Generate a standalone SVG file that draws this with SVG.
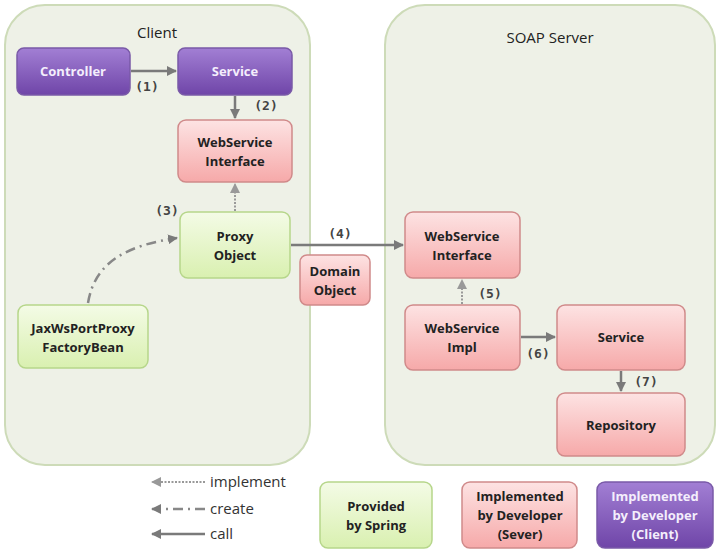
<svg xmlns="http://www.w3.org/2000/svg" width="720" height="557" viewBox="0 0 720 557">
<style>
text{font-family:"Open Sans","Liberation Sans",sans-serif;font-weight:bold;font-size:13px;text-anchor:middle}
.cont{fill:#eef1e7;stroke:#cddbb8;stroke-width:2}
.title{font-weight:normal;font-size:15px;fill:#222}
.g{fill:url(#gg);stroke:#b6d68a;stroke-width:1.5}
.r{fill:url(#gr);stroke:#d08a8a;stroke-width:1.5}
.p{fill:url(#gp);stroke:#7a5aa8;stroke-width:1.5}
.pt{fill:#f4eefc}
.t{fill:#222}
.lbl{font-family:"DejaVu Sans Mono","Liberation Mono",monospace;font-size:13px;fill:#444}
.call{stroke:#7a7a7a;stroke-width:2.5;fill:none}
.impl{stroke:#999;stroke-width:2;stroke-dasharray:2 1.5;fill:none}
.create{stroke:#888;stroke-width:2.5;stroke-dasharray:10 5 2 5;fill:none}
.leg{font-weight:normal;font-size:15px;text-anchor:start;fill:#333}
</style>
<defs>
<linearGradient id="gg" x1="0" y1="0" x2="0" y2="1"><stop offset="0" stop-color="#f4fbe6"/><stop offset="1" stop-color="#d9f0b0"/></linearGradient>
<linearGradient id="gr" x1="0" y1="0" x2="0" y2="1"><stop offset="0" stop-color="#fde3e3"/><stop offset="1" stop-color="#f6a9a9"/></linearGradient>
<linearGradient id="gp" x1="0" y1="0" x2="0" y2="1"><stop offset="0" stop-color="#a27fd4"/><stop offset="1" stop-color="#6f45a8"/></linearGradient>
<marker id="ah" viewBox="0 0 10 10" refX="9" refY="5" markerWidth="4" markerHeight="4" orient="auto-start-reverse"><path d="M0,0L10,5L0,10z" fill="#7a7a7a"/></marker>
<marker id="ahl" viewBox="0 0 10 10" refX="9" refY="5" markerWidth="5" markerHeight="5" orient="auto-start-reverse"><path d="M0,0L10,5L0,10z" fill="#999"/></marker>
</defs>
<g id="client"><rect class="cont" x="5" y="5" width="305" height="460" rx="40"/><text class="title" x="157" y="38">Client</text></g>
<g id="server"><rect class="cont" x="385" y="5" width="330" height="460" rx="40"/><text class="title" x="550" y="43">SOAP Server</text></g>
<g id="connectors">
<line class="call" x1="131" y1="71" x2="176" y2="71" marker-end="url(#ah)"/>
<line class="call" x1="235" y1="96" x2="235" y2="118" marker-end="url(#ah)"/>
<line class="impl" x1="235" y1="211" x2="235" y2="184" marker-end="url(#ahl)"/>
<path class="create" d="M88,303 C95,260 130,245 177,238" marker-end="url(#ah)"/>
<line class="call" x1="291" y1="245" x2="403" y2="245" marker-end="url(#ah)"/>
<line class="impl" x1="462" y1="304" x2="462" y2="280" marker-end="url(#ahl)"/>
<line class="call" x1="521" y1="337" x2="555" y2="337" marker-end="url(#ah)"/>
<line class="call" x1="621" y1="371" x2="621" y2="391" marker-end="url(#ah)"/>
<line class="impl" x1="205" y1="482" x2="152" y2="482" marker-end="url(#ahl)"/>
<line class="create" x1="205" y1="509" x2="152" y2="509" marker-end="url(#ah)"/>
<line class="call" x1="205" y1="534" x2="152" y2="534" marker-end="url(#ah)"/>
</g>
<g id="labels">
<text class="lbl" x="147" y="91">(1)</text>
<text class="lbl" x="266" y="110">(2)</text>
<text class="lbl" x="167" y="215">(3)</text>
<text class="lbl" x="340" y="238">(4)</text>
<text class="lbl" x="490" y="298">(5)</text>
<text class="lbl" x="538" y="358">(6)</text>
<text class="lbl" x="646" y="386">(7)</text>
</g>
<g id="controller"><rect class="p" x="17" y="48" width="113" height="47" rx="7"/><text class="pt" x="73" y="76">Controller</text></g>
<g id="service-client"><rect class="p" x="178" y="48" width="114" height="47" rx="7"/><text class="pt" x="235" y="76">Service</text></g>
<g id="wsi-client"><rect class="r" x="178" y="120" width="114" height="62" rx="8"/><text class="t" x="235" y="147">WebService</text><text class="t" x="235" y="166">Interface</text></g>
<g id="proxy"><rect class="g" x="180" y="212" width="110" height="66" rx="8"/><text class="t" x="235" y="241">Proxy</text><text class="t" x="235" y="260">Object</text></g>
<g id="jaxws"><rect class="g" x="18" y="305" width="130" height="63" rx="8"/><text class="t" x="83" y="333">JaxWsPortProxy</text><text class="t" x="83" y="352">FactoryBean</text></g>
<g id="domain"><rect class="r" x="300" y="255" width="70" height="50" rx="7"/><text class="t" x="335" y="276">Domain</text><text class="t" x="335" y="295">Object</text></g>
<g id="wsi-server"><rect class="r" x="405" y="212" width="115" height="66" rx="8"/><text class="t" x="462" y="241">WebService</text><text class="t" x="462" y="260">Interface</text></g>
<g id="wsimpl"><rect class="r" x="405" y="305" width="115" height="65" rx="8"/><text class="t" x="462" y="333">WebService</text><text class="t" x="462" y="352">Impl</text></g>
<g id="service-server"><rect class="r" x="557" y="305" width="128" height="65" rx="8"/><text class="t" x="621" y="342">Service</text></g>
<g id="repository"><rect class="r" x="557" y="393" width="128" height="63" rx="8"/><text class="t" x="621" y="430">Repository</text></g>
<g id="legend">
<text class="leg" x="210" y="487">implement</text>
<text class="leg" x="210" y="514">create</text>
<text class="leg" x="210" y="539">call</text>
<g id="leg-spring"><rect class="g" x="320" y="482" width="112" height="66" rx="8"/><text class="t" x="376" y="511">Provided</text><text class="t" x="376" y="530">by Spring</text></g>
<g id="leg-server"><rect class="r" x="462" y="482" width="115" height="66" rx="8"/><text class="t" x="520" y="501">Implemented</text><text class="t" x="520" y="520">by Developer</text><text class="t" x="520" y="539">(Sever)</text></g>
<g id="leg-client"><rect class="p" x="597" y="482" width="116" height="66" rx="8"/><text class="pt" x="655" y="501">Implemented</text><text class="pt" x="655" y="520">by Developer</text><text class="pt" x="655" y="539">(Client)</text></g>
</g>
</svg>
